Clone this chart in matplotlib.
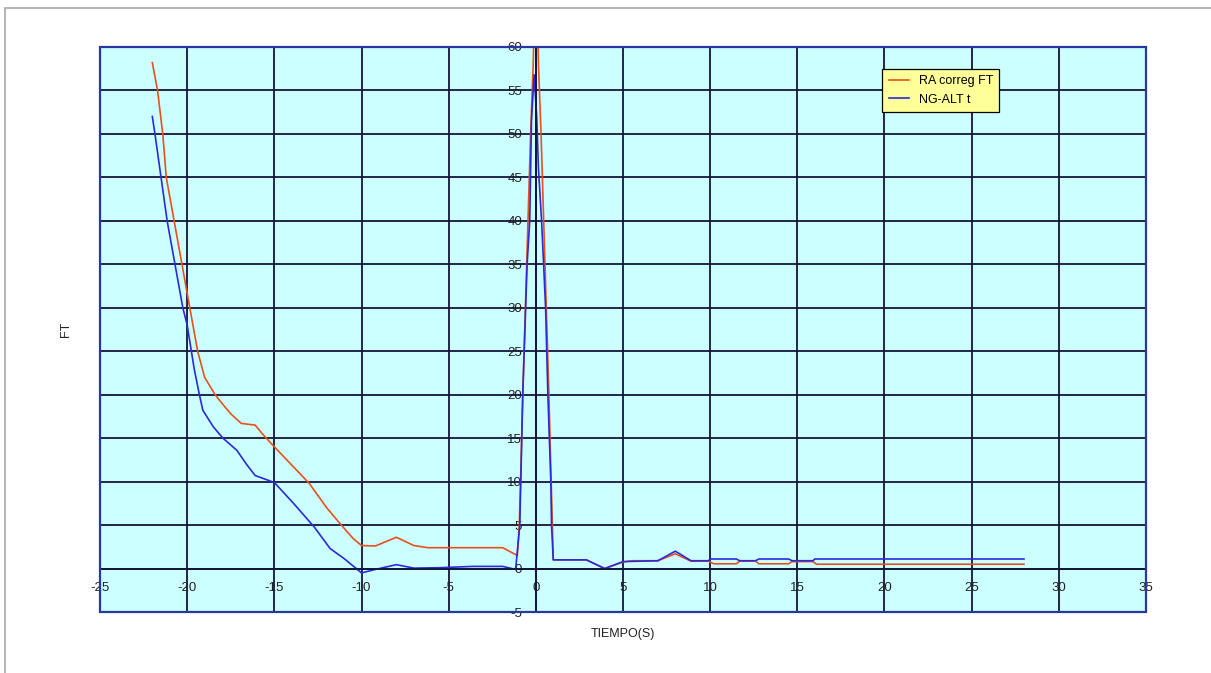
import matplotlib
matplotlib.use("Agg")
import matplotlib.pyplot as plt
from matplotlib.patches import Rectangle

# RA correg FT (red)
ra_t = [-22.0, -21.7, -21.4, -21.2, -20.75, -20.3, -19.85, -19.4, -19.0, -18.4,
        -18.0, -17.5, -16.9, -16.1, -15.6, -15.0, -14.0, -13.0, -12.0, -11.2,
        -10.5, -10.0, -9.2, -8.0, -7.0, -6.2, -1.9, -1.06,
        -0.95, -0.85, -0.75, -0.6, -0.45, -0.3, -0.15, 0.0, 0.15, 0.3, 0.45,
        0.6, 0.75, 0.88, 0.95, 1.0,
        2.9, 3.95, 5.0, 5.5, 7.0, 8.0, 8.9, 9.9, 10.2, 11.5, 11.7, 12.6,
        12.8, 14.5, 14.7, 15.9, 16.1, 28.0]
ra_ft = [58.2, 55.0, 50.0, 45.0, 40.0, 35.0, 30.0, 25.0, 22.0, 20.0,
         19.0, 17.8, 16.7, 16.5, 15.3, 14.0, 11.9, 9.8, 7.0, 5.1,
         3.5, 2.65, 2.6, 3.6, 2.65, 2.4, 2.4, 1.5,
         5.0, 12.0, 20.0, 30.0, 40.0, 50.0, 58.0, 72.0, 58.0, 50.0, 40.0,
         30.0, 20.0, 10.0, 5.0, 1.0,
         1.0, 0.0, 0.75, 0.9, 0.9, 1.7, 0.85, 0.85, 0.55, 0.55, 0.85, 0.85,
         0.55, 0.55, 0.8, 0.8, 0.5, 0.5]

# NG-ALT t (blue)
ng_t = [-22.0, -21.85, -21.5, -21.15, -20.7, -20.25, -20.0, -19.6, -19.3, -19.1,
        -18.5, -17.95, -17.15, -16.6, -16.1, -15.0, -13.9, -12.7, -11.8, -11.0,
        -10.3, -10.0, -9.2, -8.0, -7.0, -5.5, -3.6, -1.9, -1.16,
        -0.92, -0.75, -0.5, -0.35, -0.25, -0.1, 0.05, 0.15, 0.33, 0.56, 0.69,
        0.86, 0.9, 1.0,
        2.9, 3.95, 5.0, 7.0, 8.0, 8.9, 9.9, 10.0, 11.5, 11.7, 12.6, 12.8,
        14.5, 14.7, 15.9, 16.0, 28.0]
ng_ft = [52.0, 50.0, 45.0, 40.0, 35.0, 30.0, 28.0, 23.0, 20.0, 18.2,
         16.3, 15.0, 13.6, 12.0, 10.7, 9.9, 7.5, 4.75, 2.3, 1.15,
         0.0, -0.5, -0.1, 0.45, 0.05, 0.1, 0.25, 0.25, -0.1,
         5.0, 20.0, 35.0, 40.0, 51.5, 56.8, 52.0, 46.0, 40.0, 30.0, 20.0,
         10.0, 5.0, 1.0,
         1.0, 0.0, 0.8, 0.9, 2.0, 0.9, 0.9, 1.1, 1.1, 0.9, 0.9, 1.1,
         1.1, 0.9, 0.9, 1.1, 1.1]

x_ticks = list(range(-25, 36, 5))
y_ticks = list(range(-5, 61, 5))

plt.rcParams['font.family'] = ['Liberation Sans', 'DejaVu Sans']
plt.rcParams['axes.unicode_minus'] = False

fig = plt.figure(figsize=(12.11, 6.73), dpi=100)
ax = fig.add_axes([0.0826, 0.0906, 0.8637, 0.8396])
ax.set_facecolor('#ccffff')

ax.plot(ra_t, ra_ft, color='#e8501c', lw=1.2, label='RA correg FT')
ax.plot(ng_t, ng_ft, color='#2a2ad8', lw=1.2, label='NG-ALT t')

ax.set_xlim(-25, 35)
ax.set_ylim(-5, 60)
ax.set_xticks(x_ticks)
ax.set_yticks(y_ticks)
ax.grid(True, color='#14143c', lw=1.3)
ax.set_axisbelow(True)

# axes cross at the origin, like the original sheet
ax.spines['left'].set_position(('data', 0))
ax.spines['bottom'].set_position(('data', 0))
for s in ['left', 'bottom']:
    ax.spines[s].set_color('#14143c')
    ax.spines[s].set_linewidth(1.3)
for s in ['top', 'right']:
    ax.spines[s].set_visible(False)
ax.add_patch(Rectangle((0, 0), 1, 1, transform=ax.transAxes, fill=False,
                       edgecolor='#2838a0', lw=1.6, clip_on=False, zorder=5))

ax.tick_params(axis='both', length=0, labelsize=9.5, labelcolor='#222222')
ax.tick_params(axis='x', pad=10)
ax.tick_params(axis='y', pad=10)

ax.set_xlabel('TIEMPO(S)', fontsize=9, color='#222222')
ax.xaxis.set_label_coords(0.5, -0.028)
ax.set_ylabel('FT', fontsize=9, color='#222222')
ax.yaxis.set_label_coords(-0.027, 0.5)

leg = ax.legend(loc='upper left', bbox_to_anchor=(0.742, 0.972), fontsize=9,
                facecolor='#ffff99', edgecolor='black', fancybox=False,
                framealpha=1, handlelength=1.6, borderpad=0.5, labelspacing=0.5)
leg.get_frame().set_linewidth(0.9)

fig.add_artist(Rectangle((5 / 1211, -0.05), 1.2, 1.05 - 8 / 673,
                         transform=fig.transFigure, fill=False,
                         edgecolor='#a8a8a8', lw=1.2))

fig.savefig('out.png', dpi=100)
